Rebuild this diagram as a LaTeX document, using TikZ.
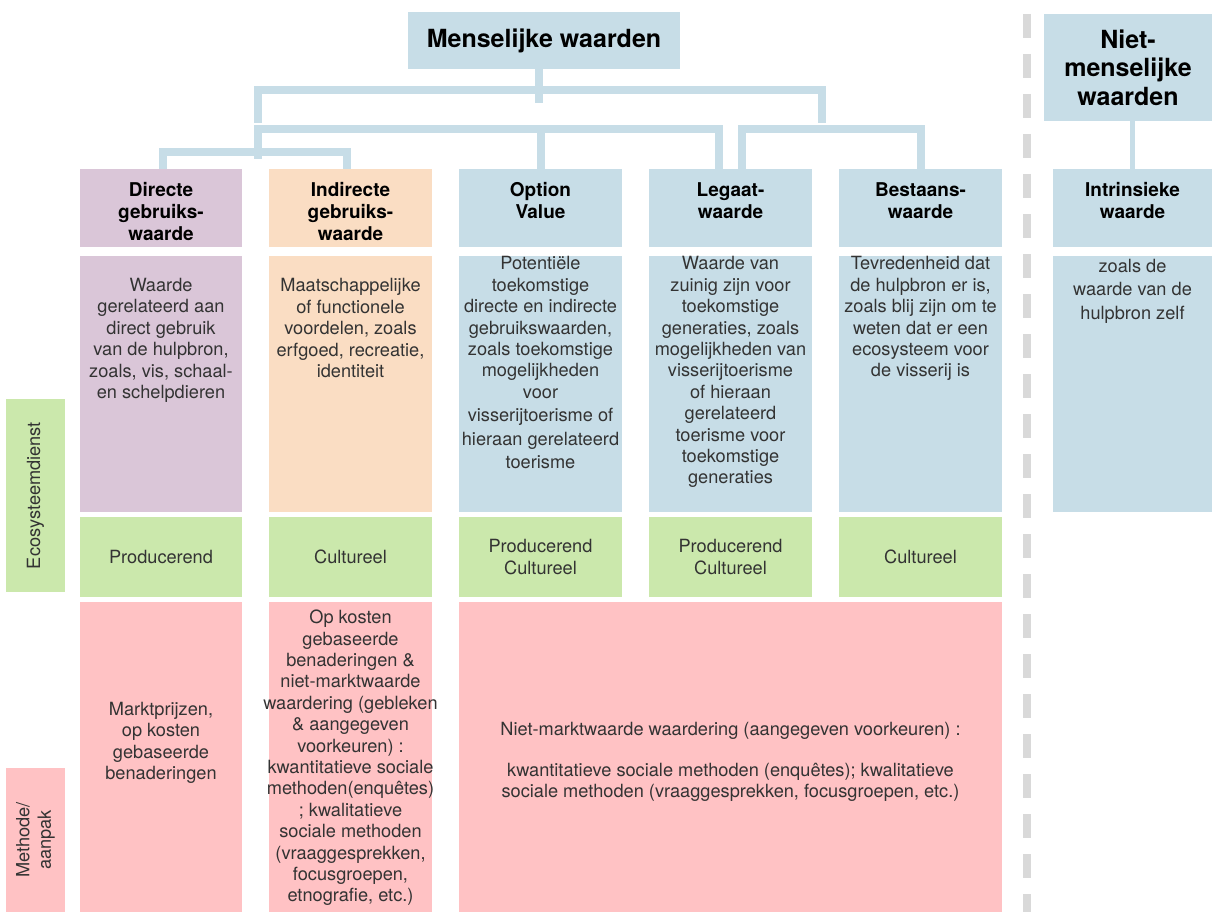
\documentclass[tikz,border=0pt]{standalone}
\usepackage{fontspec}
\setmainfont{TeX Gyre Heros}

\definecolor{blauw}{HTML}{C7DDE7}
\definecolor{paars}{HTML}{DAC6D8}
\definecolor{perzik}{HTML}{FADDC3}
\definecolor{groen}{HTML}{CBE8AC}
\definecolor{roze}{HTML}{FFC2C4}
\definecolor{grijs}{HTML}{D9D9D9}
\definecolor{inkt}{HTML}{333333}

\newcommand{\tekst}{\fontsize{18.2}{21.4}\selectfont}
\newcommand{\kop}{\fontsize{19}{22}\selectfont\bfseries}
\newcommand{\titel}{\fontsize{25}{28.5}\selectfont\bfseries}

\begin{document}
\begin{tikzpicture}[x=1pt, y=-1pt,
	vak/.style={inner sep=0pt, outer sep=0pt, align=center},
	koptekst/.style={inner sep=0pt, anchor=north, align=center, font=\kop, execute at begin node=\strut},
	uitleg/.style={inner sep=0pt, anchor=north, align=center, font=\tekst, text=inkt, execute at begin node=\strut},
	midden/.style={inner sep=0pt, align=center, font=\tekst, text=inkt},
	link/.style={draw=blauw, line width=8pt}]
	\useasboundingbox (0,0) rectangle (1212,912);

	% Scheidingslijn
		\draw[grijs, line width=8pt, dash pattern=on 24pt off 16pt] (1027,14) -- (1027,912);

	% Hoofdvakken
		\node[vak, fill=blauw, minimum width=272pt, minimum height=57pt, font=\titel] (mens) at (544,40.5) {\raisebox{-2pt}{Menselijke waarden}};
		\node[vak, fill=blauw, minimum width=168pt, minimum height=107pt, font=\titel] (niet) at (1128,67.5) {Niet-\\menselijke\\waarden};

	% Kopjes
		\node[vak, fill=paars, minimum width=162pt, minimum height=78pt] (direct) at (161,208) {};
		\node[vak, fill=perzik, minimum width=163pt, minimum height=78pt] (indirect) at (350.5,208) {};
		\node[vak, fill=blauw, minimum width=163pt, minimum height=78pt] (option) at (540.5,208) {};
		\node[vak, fill=blauw, minimum width=163pt, minimum height=78pt] (legaat) at (730.5,208) {};
		\node[vak, fill=blauw, minimum width=163pt, minimum height=78pt] (bestaan) at (920.5,208) {};
		\node[vak, fill=blauw, minimum width=159pt, minimum height=78pt] (intrins) at (1132.5,208) {};
		\node[koptekst] (directkop) at (161,182) {Directe\\gebruiks-\\waarde};
		\node[koptekst] (indirectkop) at (350.5,182) {Indirecte\\gebruiks-\\waarde};
		\node[koptekst] (optionkop) at (540.5,182) {Option\\Value};
		\node[koptekst] (legaatkop) at (730.5,182) {Legaat-\\waarde};
		\node[koptekst] (bestaankop) at (920.5,182) {Bestaans-\\waarde};
		\node[koptekst] (intrinskop) at (1132.5,182) {Intrinsieke\\waarde};

	% Verbindingen
		\coordinate (bovenL) at (258,123);
		\coordinate (bovenR) at (822,123);
		\coordinate (onderL) at (258,159);
		\draw[link] ([xshift=-5pt]mens.south) -- ++(0,34);
		\draw[link] (bovenL) -- ++(0,-33) -| (bovenR);
		\draw[link] (onderL) -- ++(0,-30) -| ([xshift=-11.5pt]legaat.north);
		\draw[link] (option.north) -- ++(0,-40);
		\draw[link] ([xshift=11.5pt]legaat.north) -- ++(0,-40) -| (bestaan.north);
		\draw[link] ([xshift=2pt]direct.north) -- ++(0,-17) -| ([xshift=-3.5pt]indirect.north);
		\draw[link, line width=5pt] (intrins.north |- niet.south) -- (intrins.north);

	% Omschrijvingen
		\node[vak, fill=paars, minimum width=162pt, minimum height=256pt] (directvak) at (161,384) {};
		\node[vak, fill=perzik, minimum width=163pt, minimum height=256pt] (indirectvak) at (350.5,384) {};
		\node[vak, fill=blauw, minimum width=163pt, minimum height=256pt] (optionvak) at (540.5,384) {};
		\node[vak, fill=blauw, minimum width=163pt, minimum height=256pt] (legaatvak) at (730.5,384) {};
		\node[vak, fill=blauw, minimum width=163pt, minimum height=256pt] (bestaanvak) at (920.5,384) {};
		\node[vak, fill=blauw, minimum width=159pt, minimum height=256pt] (intrinsvak) at (1132.5,384) {};
		\node[uitleg] (directtxt) at (161,278) {Waarde\\gerelateerd aan\\direct gebruik\\van de hulpbron,\\zoals, vis, schaal-\\en schelpdieren};
		\node[uitleg] (indirecttxt) at (350.5,278.5) {Maatschappelijke\\of functionele\\voordelen, zoals\\erfgoed, recreatie,\\identiteit};
		\node[uitleg] (optiontxt) at (540.5,256.5) {Potentiële\\toekomstige\\directe en indirecte\\gebruikswaarden,\\zoals toekomstige\\mogelijkheden\\voor\\[2pt]visserijtoerisme of\\[2pt]hieraan gerelateerd\\[2pt]toerisme};
		\node[uitleg] (legaattxt) at (730.5,256.5) {Waarde van\\zuinig zijn voor\\toekomstige\\generaties, zoals\\mogelijkheden van\\visserijtoerisme\\of hieraan\\gerelateerd\\toerisme voor\\toekomstige\\generaties};
		\node[uitleg] (bestaantxt) at (920.5,256.5) {Tevredenheid dat\\de hulpbron er is,\\zoals blij zijn om te\\weten dat er een\\ecosysteem voor\\de visserij is};
		\node[uitleg] (intrinstxt) at (1132.5,259) {zoals de\\[2pt]waarde van de\\[2pt]hulpbron zelf};

	% Ecosysteemdienst
		\node[vak, fill=groen, minimum width=193pt, minimum height=59pt, rotate=90, font=\tekst, text=inkt] (ecolabel) at (35.5,495.5) {Ecosysteemdienst};
		\node[vak, fill=groen, minimum width=162pt, minimum height=80pt, font=\tekst, text=inkt] (directeco) at (161,557) {Producerend};
		\node[vak, fill=groen, minimum width=163pt, minimum height=80pt, font=\tekst, text=inkt] (indirecteco) at (350.5,557) {Cultureel};
		\node[vak, fill=groen, minimum width=163pt, minimum height=80pt, font=\tekst, text=inkt] (optioneco) at (540.5,557) {Producerend\\Cultureel};
		\node[vak, fill=groen, minimum width=163pt, minimum height=80pt, font=\tekst, text=inkt] (legaateco) at (730.5,557) {Producerend\\Cultureel};
		\node[vak, fill=groen, minimum width=163pt, minimum height=80pt, font=\tekst, text=inkt] (bestaaneco) at (920.5,557) {Cultureel};

	% Methode
		\node[vak, fill=roze, minimum width=144pt, minimum height=59pt, rotate=90, font=\tekst, text=inkt] (methlabel) at (35.5,840) {Methode/\\aanpak};
		\node[vak, fill=roze, minimum width=162pt, minimum height=310pt] (directmeth) at (161,757) {};
		\node[vak, fill=roze, minimum width=163pt, minimum height=310pt] (indirectmeth) at (350.5,757) {};
		\node[vak, fill=roze, minimum width=543pt, minimum height=310pt] (overigmeth) at (730.5,757) {};
		\node[midden] (directmtxt) at (161,743) {Marktprijzen,\\op kosten\\gebaseerde\\benaderingen};
		\node[midden] (indirectmtxt) at (350.5,758) {Op kosten\\gebaseerde\\benaderingen \&\\niet-marktwaarde\\waardering (gebleken\\\& aangegeven\\voorkeuren) :\\kwantitatieve sociale\\methoden(enquêtes)\\; kwalitatieve\\sociale methoden\\(vraaggesprekken,\\focusgroepen,\\etnografie, etc.)};
		\node[midden] (overigmtxt) at (730.5,762) {Niet-marktwaarde waardering (aangegeven voorkeuren) :\\[19pt]kwantitatieve sociale methoden (enquêtes); kwalitatieve\\sociale methoden (vraaggesprekken, focusgroepen, etc.)};
\end{tikzpicture}
\end{document}
